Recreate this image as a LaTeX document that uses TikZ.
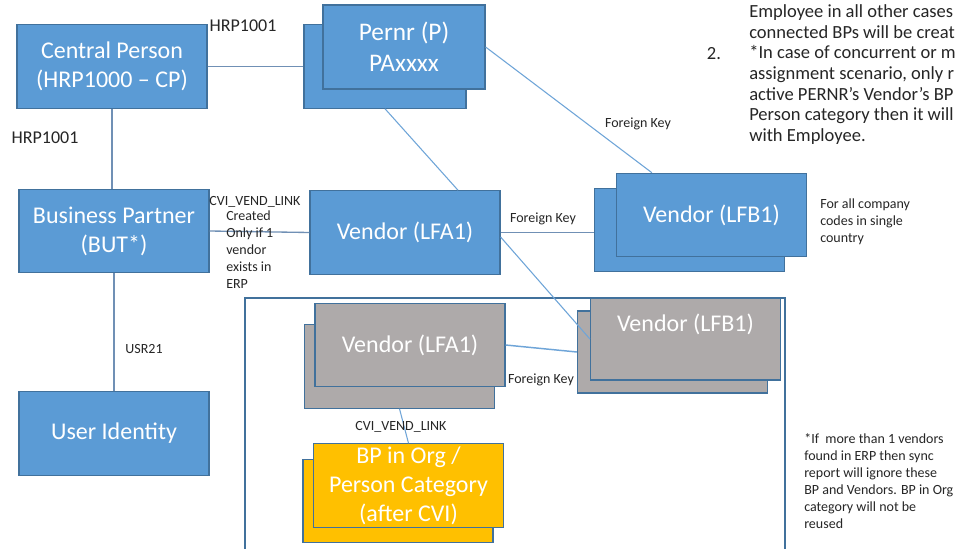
\documentclass[tikz,border=0pt]{standalone}
\usepackage{fontspec}
\setmainfont{Carlito}
\usetikzlibrary{calc}
\definecolor{boxblue}{HTML}{5B9BD5}
\definecolor{edgeblue}{HTML}{41719C}
\definecolor{boxgrey}{HTML}{AEAAAA}
\definecolor{boxyellow}{HTML}{FFC000}
\definecolor{linkblue}{HTML}{6FA5D8}
\definecolor{linkgrey}{HTML}{7090B5}
\begin{document}
\begin{tikzpicture}[x=0.75pt,y=-0.75pt,
  box/.style={draw=edgeblue, line width=0.9pt, minimum width=142.5pt, minimum height=62.5pt, inner sep=0pt, text=white, align=center, font=\fontsize{18}{21.75}\selectfont},
  bluebox/.style={box, fill=boxblue},
  greybox/.style={box, fill=boxgrey},
  yellowbox/.style={box, fill=boxyellow},
  lbl/.style={font=\fontsize{10.5}{12.75}\selectfont, inner sep=0pt, text=black!85},
  bigl/.style={font=\fontsize{13.5}{15.5}\selectfont, inner sep=0pt, text=black!85},
  notel/.style={font=\fontsize{13.9}{15.5}\selectfont, inner sep=0pt, text=black!85},
  link/.style={draw=linkblue, line width=0.8pt},
  rel/.style={draw=linkgrey, line width=1pt}]
\useasboundingbox (0,0) rectangle (956,549);
\fill[white] (0,0) rectangle (956,549);
% frame
\draw[edgeblue, line width=0.9pt] (245,552) -- (245,298) -- (785,298) -- (785,552);
% boxes
\node[bluebox] (cp) at (112,66.5) {Central Person\\(HRP1000 – CP)};
\node[bluebox, minimum width=121.5pt] (pb) at (385,66.5) {};
\node[bluebox, minimum width=121.5pt, minimum height=63pt, font=\fontsize{19}{23.25}\selectfont] (pf) at (404,47) {Pernr (P)\\PAxxxx};
\node[bluebox] (bp) at (114,231) {Business Partner\\(BUT*)};
\node[bluebox] (va) at (405,232.5) {Vendor (LFA1)};
\node[bluebox] (vbb) at (689.5,230) {};
\node[bluebox] (vbf) at (711.5,215) {Vendor (LFB1)};
\node[bluebox] (ui) at (114,433.5) {User Identity};
\node[greybox] (gab) at (399.5,366.5) {};
\node[greybox] (gaf) at (410,345) {Vendor (LFA1)};
\node[greybox, minimum height=61.5pt] (gbb) at (672.5,352) {};
\node[greybox, minimum height=61.5pt] (gbf) at (685.5,339) {};
\node[text=white, inner sep=0pt, font=\fontsize{18}{21.75}\selectfont] (gbt) at (685.5,324) {Vendor (LFB1)};
\node[yellowbox] (yb) at (398,501) {};
\node[yellowbox] (yf) at (408.5,485.5) {BP in Org /\\Person Category\\(after CVI)};
% connectors
\draw[rel] (cp.east) -- (pb.west);
\draw[rel] (cp.south) -- (cp.south |- bp.north);
\draw[rel] (bp.south) -- (ui.north);
\draw[link] (pb.south) -- ($(va.north)+(53,0)$);
\draw[link] (pf.east) -- ($(vbf.north west)+(36,0)$);
\draw[rel] (bp.east) -- (va.west);
\draw[rel] (va.east) -- (va.east -| vbb.west);
\draw[link] ($(va.east)+(0,4.5)$) -- (gbf.west);
\draw[link, line width=1.1pt] (gaf.east) -- (gbb.west);
\draw[link] (gab.south) -- (yf.north);
% labels
\node[bigl] (h1) at (243,26) {HRP1001};
\node[bigl] (h2) at (45,138) {HRP1001};
\node[lbl] (fk1) at (638,124) {Foreign Key};
\node[lbl] (cvi1) at (255,202) {CVI\_VEND\_LINK};
\node[lbl, align=left, anchor=north west] (cr) at (226,211) {Created\\Only if 1\\vendor\\exists in\\ERP};
\node[lbl] (fk2) at (543,219) {Foreign Key};
\node[lbl, align=left, anchor=north west] (fa) at (820,199) {For all company\\codes in single\\country};
\node[lbl] (usr) at (144,349) {USR21};
\node[lbl] (fk3) at (541,380) {Foreign Key};
\node[lbl] (cvi2) at (401,427) {CVI\_VEND\_LINK};
\node[lbl, align=left, anchor=north west] (note) at (804,433) {*If\ \ more than 1 vendors\\found in ERP then sync\\report will ignore these\\BP and Vendors. BP in Org\\category will not be\\reused};
\node[notel, align=left, anchor=north west] (tr) at (749,4.5) {Employee in all other cases\\connected BPs will be creat\\*In case of concurrent or m\\assignment scenario, only r\\active PERNR’s Vendor’s BP\\Person category then it will\\with Employee.};
\node[notel] (n2) at (714,54) {2.};
\end{tikzpicture}
\end{document}
